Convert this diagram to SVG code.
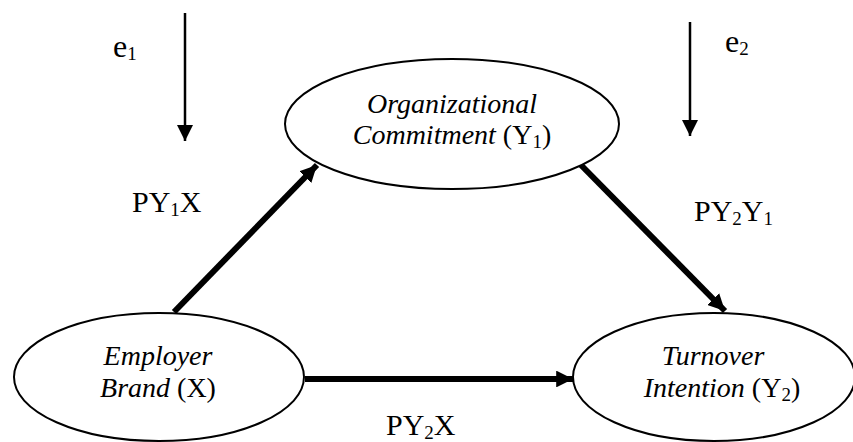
<svg xmlns="http://www.w3.org/2000/svg" width="853" height="442" viewBox="0 0 853 442">
<style>
.node{fill:#fff;stroke:#000;stroke-width:2}
.t{font-family:"Liberation Serif",serif;font-size:28px;fill:#000}
.i{font-style:italic}
.lbl{font-family:"Liberation Serif",serif;font-size:30px;fill:#000}
.e{font-family:"Liberation Serif",serif;font-size:32px;fill:#000}
.sub{font-size:19px}
.thick{stroke:#000;stroke-width:6;fill:none}
.thin{stroke:#000;stroke-width:2.5;fill:none}
</style>
<defs>
<marker id="ah" viewBox="0 0 10 10" refX="10" refY="5" markerWidth="2.8" markerHeight="2.8" orient="auto" markerUnits="strokeWidth">
<path d="M0,0 L10,5 L0,10 z" fill="#000"/>
</marker>
<marker id="ahs" viewBox="0 0 10 10" refX="10" refY="5" markerWidth="6.4" markerHeight="6.4" orient="auto" markerUnits="strokeWidth">
<path d="M0,0 L10,5 L0,10 z" fill="#000"/>
</marker>
</defs>
<rect width="853" height="442" fill="#fff"/>
<g id="connectors">
<line class="thick" x1="174" y1="312" x2="317" y2="165" marker-end="url(#ah)"/>
<line class="thick" x1="576" y1="160" x2="725" y2="311" marker-end="url(#ah)"/>
<line class="thick" x1="305" y1="379" x2="573" y2="379" marker-end="url(#ah)"/>
<line class="thin" x1="185" y1="13" x2="185" y2="141" marker-end="url(#ahs)"/>
<line class="thin" x1="690" y1="22" x2="690" y2="136" marker-end="url(#ahs)"/>
</g>
<g id="node-commitment">
<ellipse class="node" cx="452" cy="124" rx="167" ry="65"/>
<text class="t i" x="452" y="113" text-anchor="middle">Organizational</text>
<text class="t" x="452" y="144" text-anchor="middle"><tspan class="i">Commitment</tspan> (Y<tspan class="sub" dy="4">1</tspan><tspan dy="-4">)</tspan></text>
</g>
<g id="node-employer">
<ellipse class="node" cx="159" cy="377" rx="145" ry="64"/>
<text class="t i" x="158" y="365" text-anchor="middle">Employer</text>
<text class="t" x="158" y="397" text-anchor="middle"><tspan class="i">Brand</tspan> (X)</text>
</g>
<g id="node-turnover">
<ellipse class="node" cx="714" cy="377" rx="141" ry="64"/>
<text class="t i" x="713" y="365" text-anchor="middle">Turnover</text>
<text class="t" x="722" y="397" text-anchor="middle"><tspan class="i">Intention</tspan> (Y<tspan class="sub" dy="4">2</tspan><tspan dy="-4">)</tspan></text>
</g>
<g id="labels">
<text class="e" x="113" y="57">e<tspan class="sub" dy="3">1</tspan></text>
<text class="e" x="725" y="52">e<tspan class="sub" dy="3">2</tspan></text>
<text class="lbl" x="132" y="212">PY<tspan class="sub" dy="4">1</tspan><tspan dy="-4">X</tspan></text>
<text class="lbl" x="694" y="221">PY<tspan class="sub" dy="4">2</tspan><tspan dy="-4">Y</tspan><tspan class="sub" dy="4">1</tspan></text>
<text class="lbl" x="386" y="435">PY<tspan class="sub" dy="4">2</tspan><tspan dy="-4">X</tspan></text>
</g>
</svg>
